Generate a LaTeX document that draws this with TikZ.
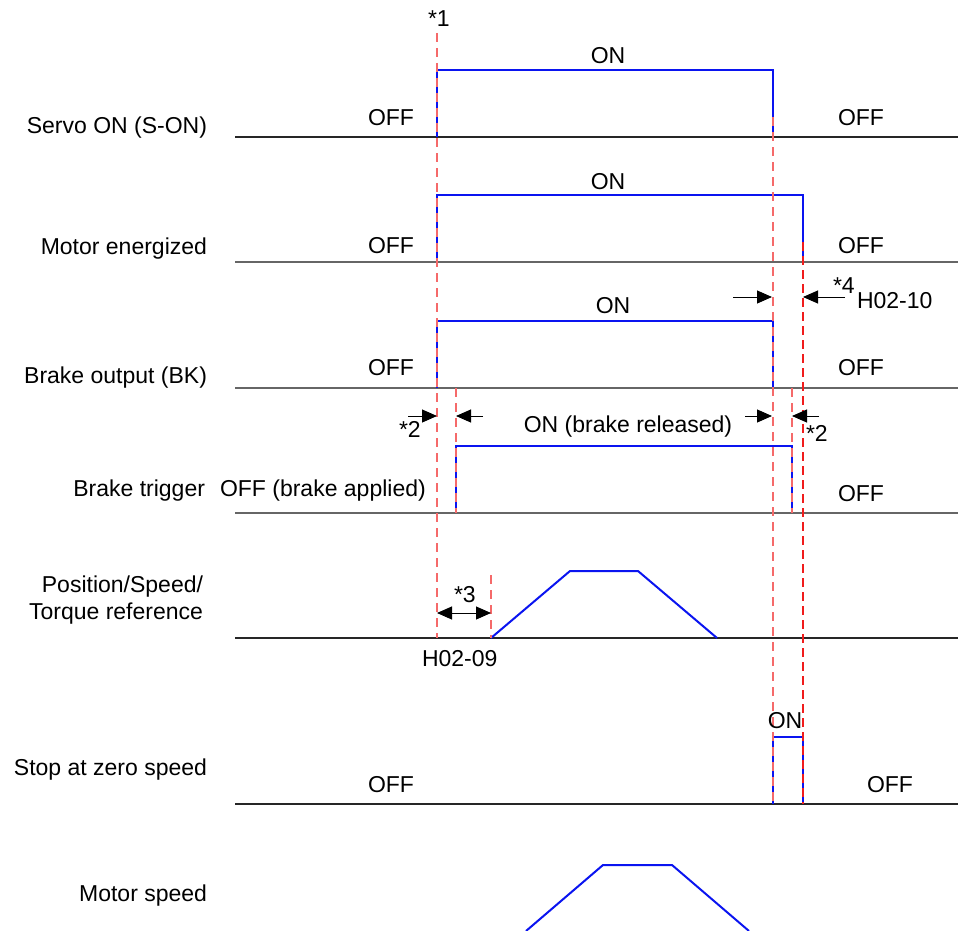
\documentclass[tikz,border=0pt]{standalone}
\usepackage{fontspec}
\setmainfont{Liberation Sans}
\usetikzlibrary{arrows.meta}
\definecolor{lred}{HTML}{F56A6A}
\definecolor{dred}{HTML}{F01C1C}
\definecolor{sigblue}{HTML}{0A14F0}
\begin{document}
\begin{tikzpicture}[x=1pt,y=-1pt,
  lbl/.style={inner sep=0pt,outer sep=0pt,font=\fontsize{23}{27}\selectfont},
  axisline/.style={line width=1.5pt,draw=black!85},
  graybase/.style={line width=1.5pt,draw=black!60},
  sig/.style={line width=2pt,draw=sigblue,line join=miter},
  rdash/.style={draw=lred,line width=1.4pt,dash pattern=on 9pt off 6pt},
  ddash/.style={draw=dred,line width=1.1pt,dash pattern=on 9pt off 5pt},
  dim/.style={draw=black,line width=1pt,-{Triangle[length=15pt,width=13pt]}},
  dimboth/.style={draw=black,line width=1pt,{Triangle[length=15pt,width=13pt]}-{Triangle[length=15pt,width=13pt]}}
]
\useasboundingbox (0,0) rectangle (958,931);

% baselines
\draw[axisline] (235,137) -- (958,137);
\draw[graybase] (235,262) -- (958,262);
\draw[graybase] (235,388) -- (958,388);
\draw[graybase] (235,513) -- (958,513);
\draw[axisline] (235,638) -- (958,638);
\draw[axisline] (235,804) -- (958,804);

% signals
\draw[sig] (437,137) -- (437,70) -- (773,70) -- (773,137);
\draw[sig] (437,262) -- (437,195) -- (803,195) -- (803,262);
\draw[sig] (437,388) -- (437,321) -- (773,321) -- (773,388);
\draw[sig] (456,513) -- (456,446) -- (792,446) -- (792,513);
\draw[sig] (491,638) -- (570,571) -- (638,571) -- (717,638);
\draw[sig] (773,804) -- (773,737) -- (803,737) -- (803,804);
\draw[sig] (526,931) -- (603,865) -- (672,865) -- (749,931);

% dashed guides
\draw[rdash] (437,33) -- (437,638);
\draw[rdash] (773,117) -- (773,804);
\draw[ddash] (803,242) -- (803,804);
\draw[rdash] (456,388) -- (456,513);
\draw[rdash] (792,388) -- (792,513);
\draw[rdash] (491,575) -- (491,638);

% dimension arrows
\coordinate (a4l) at (733,297);
\coordinate (a4lt) at (772,297);
\coordinate (a4r) at (845,297);
\coordinate (a4rt) at (803,297);
\coordinate (a2rl) at (745,416);
\coordinate (a2rlt) at (772,416);
\coordinate (a2rr) at (819,416);
\coordinate (a2rrt) at (792,416);
\coordinate (a2ll) at (408,416);
\coordinate (a2llt) at (437,416);
\coordinate (a2lr) at (483,416);
\coordinate (a2lrt) at (456,416);
\coordinate (a3l) at (437,613);
\coordinate (a3r) at (491,613);
\draw[dim] (a4l) -- (a4lt);
\draw[dim] (a4r) -- (a4rt);
\draw[dim] (a2rl) -- (a2rlt);
\draw[dim] (a2rr) -- (a2rrt);
\draw[dim] (a2ll) -- (a2llt);
\draw[dim] (a2lr) -- (a2lrt);
\draw[dimboth] (a3l) -- (a3r);

% left labels
\node[lbl,anchor=base east] (l1) at (207,133) {Servo ON (S-ON)};
\node[lbl,anchor=base east] (l2) at (207,254) {Motor energized};
\node[lbl,anchor=base east] (l3) at (207,383) {Brake output (BK)};
\node[lbl,anchor=base east] (l4) at (205,496) {Brake trigger};
\node[lbl,anchor=base east] (l5a) at (203,592) {Position/Speed/};
\node[lbl,anchor=base east] (l5b) at (203,619) {Torque reference};
\node[lbl,anchor=base east] (l6) at (207,775) {Stop at zero speed};
\node[lbl,anchor=base east] (l7) at (207,901) {Motor speed};

% OFF labels
\node[lbl,anchor=base west] (o1l) at (368,126) {OFF};
\node[lbl,anchor=base west] (o2l) at (368,253) {OFF};
\node[lbl,anchor=base west] (o3l) at (368,375) {OFF};
\node[lbl,anchor=base west] (o4l) at (220,496) {OFF (brake applied)};
\node[lbl,anchor=base west] (o6l) at (368,792) {OFF};
\node[lbl,anchor=base west] (o1r) at (838,126) {OFF};
\node[lbl,anchor=base west] (o2r) at (838,253) {OFF};
\node[lbl,anchor=base west] (o3r) at (838,375) {OFF};
\node[lbl,anchor=base west] (o4r) at (838,501) {OFF};
\node[lbl,anchor=base west] (o6r) at (867,792) {OFF};

% ON labels
\node[lbl,anchor=base] (n1) at (608,64) {ON};
\node[lbl,anchor=base] (n2) at (608,189) {ON};
\node[lbl,anchor=base] (n3) at (613,313) {ON};
\node[lbl,anchor=base] (n4) at (628,432) {ON (brake released)};
\node[lbl,anchor=base] (n6) at (785,728) {ON};

% annotations
\node[lbl,anchor=base west] (s1) at (428,27) {*1};
\node[lbl,anchor=base west] (s4) at (833,293) {*4};
\node[lbl,anchor=base west] (h10) at (857,308) {H02-10};
\node[lbl,anchor=base west] (s2l) at (399,437) {*2};
\node[lbl,anchor=base west] (s2r) at (806,441) {*2};
\node[lbl,anchor=base west] (s3) at (454,602) {*3};
\node[lbl,anchor=base west] (h09) at (422,666) {H02-09};
\end{tikzpicture}
\end{document}
